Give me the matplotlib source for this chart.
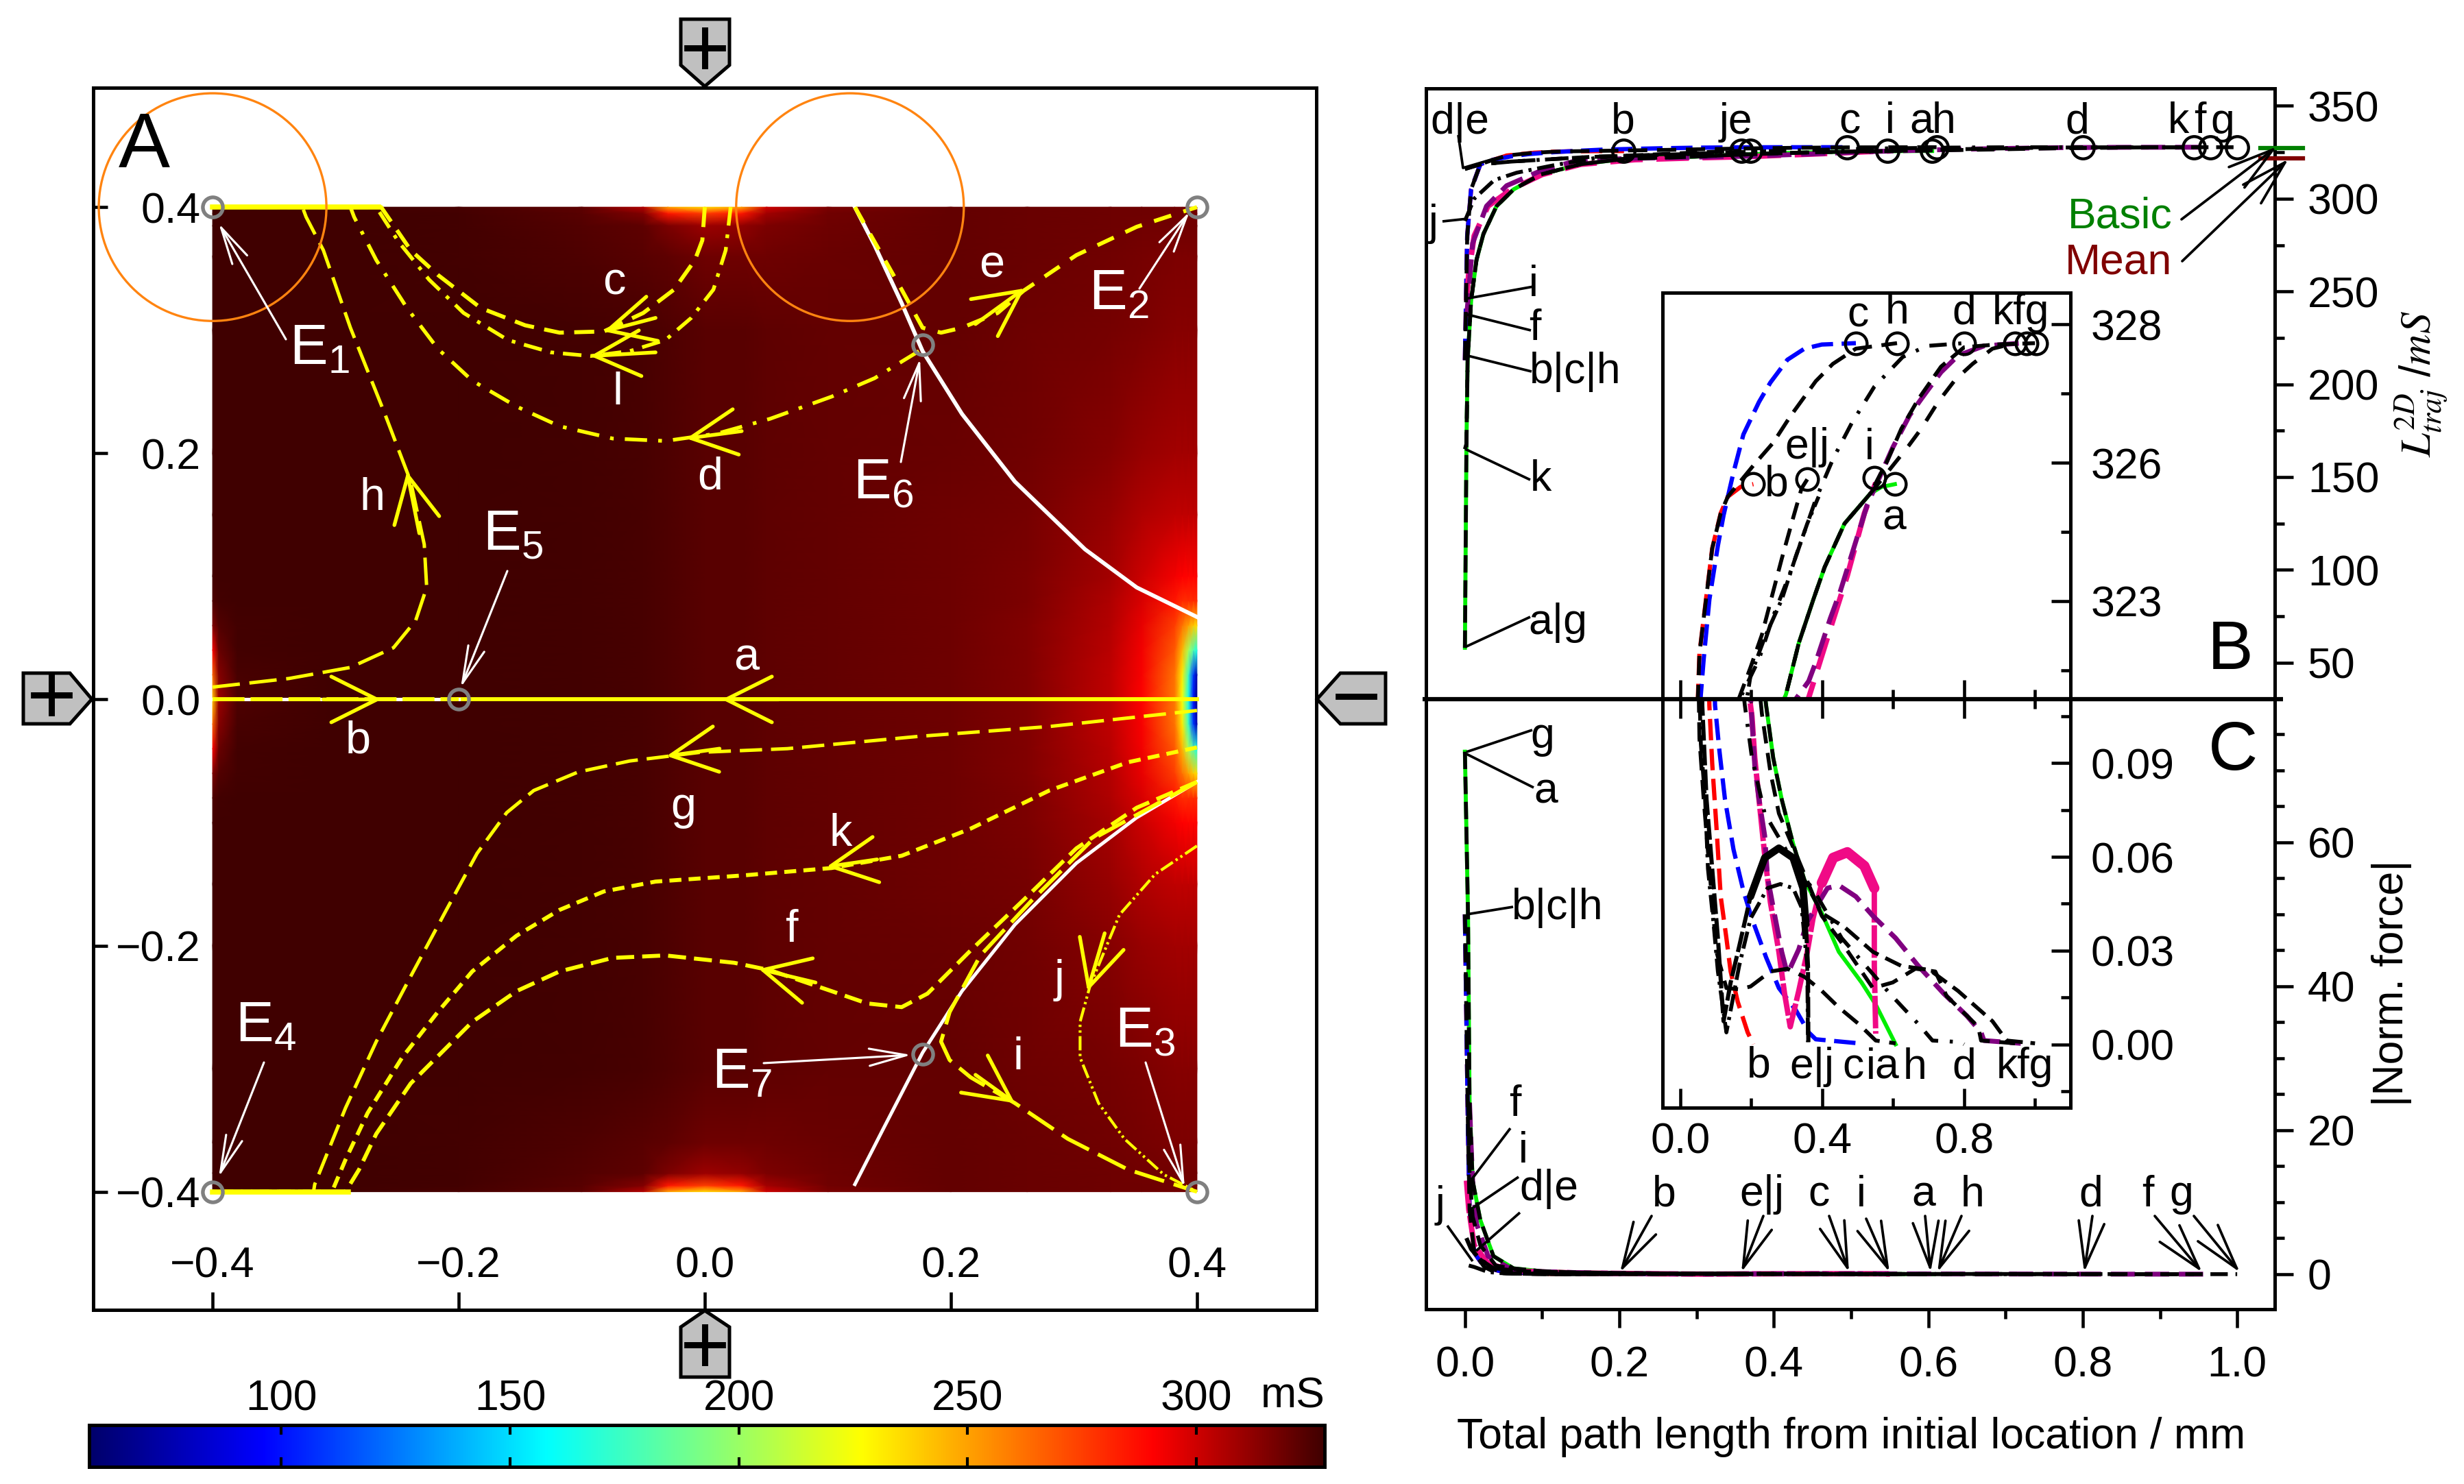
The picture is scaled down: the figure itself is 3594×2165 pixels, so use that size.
import numpy as np
import matplotlib
matplotlib.use('Agg')
import matplotlib.pyplot as plt
from matplotlib.colors import LinearSegmentedColormap
from matplotlib.patches import Polygon, Circle, Rectangle
from matplotlib.ticker import MultipleLocator, FixedLocator, FixedFormatter

plt.rcParams['font.family'] = ['Liberation Sans', 'DejaVu Sans']
plt.rcParams['mathtext.default'] = 'regular'
plt.rcParams['axes.unicode_minus'] = True

W, H, DPI = 3594, 2165, 300

# ---------- Panel A: conductivity field (mS) ----------
field_x = [-.4,-.395,-.38,-.3,-.2,-.1,-.05,-.03,0,.03,.05,.1,.2,.262,.33,.355,.382,.388,.393,.397,.4]
field_y = [0,.02,.04,.06,.08,.1,.15,.2,.3,.36,.385,.395,.4]
field_z = [
 [240,310,325,328,328,327,326,325,323,323,322,321,319,315,303,291,260,225,165,100,65],
 [265,314,326,328,328,327,326,325,323,323,322,321,319,315,303,292,262,232,175,110,75],
 [290,320,327,328,328,327,326,325,323,323,322,321,319,315,304,293,268,245,205,180,165],
 [315,324,327,328,328,327,326,325,323,323,322,321,319,315,305,295,275,262,250,240,235],
 [325,327,328,328,328,327,326,325,323,323,322,321,319,316,306,298,285,280,280,280,280],
 [327,328,328,328,328,327,326,325,323,323,322,321,319,316,308,301,293,291,290,290,290],
 [328,328,328,328,328,327,326,325,323,323,322,321,319,317,311,306,303,303,303,303,303],
 [328,328,328,328,328,327,326,325,323,323,322,321,320,318,314,311,309,309,309,309,309],
 [328,328,328,328,328,327,326,325,323,323,322,321,321,319,317,316,314,314,314,314,314],
 [328,328,328,328,327,325,323,322,319,319,319,320,321,320,318,317,316,316,316,316,316],
 [328,328,328,328,327,324,322,316,310,312,316,319,321,320,319,318,318,318,318,318,318],
 [328,328,328,328,327,323,315,285,275,285,309,318,321,320,319,319,318,318,318,318,318],
 [328,328,328,328,326,322,305,250,235,250,300,316,321,320,319,319,318,318,318,318,318],
]
cbar_ticks = [100,150,200,250,300]

# trajectories in panel A
tr_c = ([0,-.002,-.008,-.025,-.05,-.082,-.118,-.146,-.182,-.217,-.239,-.263,-.4],
        [.4,.373,.357,.333,.314,.299,.298,.304,.318,.345,.365,.4,.4])
tr_l = ([.021,.017,.007,-.011,-.032,-.061,-.093,-.125,-.16,-.196,-.224,-.249,-.267,-.4],
        [.4,.365,.333,.31,.292,.283,.279,.282,.292,.314,.341,.372,.4,.4])
tr_d = ([.174,.138,.103,.053,.01,-.032,-.075,-.118,-.153,-.189,-.217,-.242,-.267,-.285,-.288,-.4],
        [.283,.261,.246,.228,.216,.21,.212,.222,.238,.259,.285,.318,.357,.392,.4,.4])
tr_e = ([.122,.16,.177,.192,.209,.238,.259,.302,.351,.4],
        [.4,.333,.302,.298,.302,.314,.332,.361,.384,.4])
tr_h = ([-.4,-.338,-.288,-.253,-.235,-.226,-.228,-.239,-.26,-.288,-.31,-.324,-.327,-.4],
        [.01,.017,.026,.042,.064,.091,.126,.177,.232,.302,.365,.392,.4,.4])
tr_a = ([.4,-.2],[0,0])
tr_b = ([-.4,-.2],[0,0])
tr_g = ([.4,.28,.174,.067,-.004,-.061,-.103,-.139,-.161,-.185,-.21,-.239,-.267,-.292,-.317,-.318,-.4],
        [-.009,-.022,-.03,-.04,-.043,-.05,-.059,-.074,-.092,-.125,-.171,-.225,-.278,-.332,-.394,-.4,-.4])
tr_k = ([.4,.344,.28,.216,.16,.103,.031,-.04,-.082,-.118,-.153,-.189,-.217,-.246,-.274,-.292,-.303,-.4],
        [-.039,-.051,-.074,-.105,-.127,-.137,-.143,-.148,-.156,-.171,-.192,-.221,-.254,-.291,-.336,-.374,-.4,-.4])
tr_f = ([.4,.351,.302,.259,.216,.181,.16,.132,.103,.053,.024,-.032,-.075,-.118,-.153,-.189,-.21,-.239,-.267,-.281,-.292,-.4],
        [-.067,-.088,-.121,-.163,-.204,-.239,-.25,-.247,-.237,-.22,-.214,-.208,-.21,-.221,-.237,-.262,-.283,-.312,-.353,-.382,-.4,-.4])
tr_i = ([.4,.316,.266,.224,.199,.192,.199,.216,.252,.295,.344,.4],
        [-.067,-.113,-.163,-.208,-.254,-.278,-.293,-.307,-.328,-.357,-.382,-.4])
tr_j = ([.4,.366,.337,.313,.305,.305,.32,.341,.373,.4],
        [-.119,-.142,-.175,-.233,-.262,-.291,-.328,-.357,-.386,-.4])
sep_up = ([.122,.138,.16,.177,.209,.252,.309,.351,.4],
          [.4,.369,.322,.283,.232,.177,.122,.091,.067])
sep_lo = ([.122,.145,.177,.209,.252,.302,.351,.4],
          [-.394,-.349,-.287,-.237,-.183,-.133,-.096,-.067])
el_x = [-.4,.4,.4,-.4,-.2,.177,.177]
el_y = [.4,.4,-.4,-.4,0,.288,-.288]
ring_x = [-.4,.118]
ring_y = [.4,.4]
arrow_tail_x = [-.04,-.04,.03,.22,-.232,.06,-.31,.012,.14,.09,.22,.325]
arrow_tail_y = [.31,.282,.218,.305,.135,0,0,-.04,-.13,-.23,-.305,-.19]
arrow_tip_x = [-.082,-.093,-.015,.26,-.242,.014,-.263,-.031,.099,.044,.252,.311]
arrow_tip_y = [.299,.279,.212,.334,.185,0,0,-.046,-.136,-.219,-.328,-.237]

# ---------- Panels B / C: one x/y pair per trajectory ----------
a_bx=[0,.002,.0035,.008,.015,.024,.041,.063,.098,.15,.21,.298,.334,.375,.407,.463,.535,.567,.605]
a_by=[58,168,213,245,267,281,296,305,313,318.6,321.6,322.65,323.39,324.02,324.49,325.12,325.55,325.65,325.69]
g_bx=[0,.002,.0035,.008,.015,.024,.041,.063,.098,.15,.21,.298,.334,.375,.407,.463,.535,.583,.623,.671,.735,.8,.888,1.0]
g_by=[58,168,213,245,267,281,296,305,313,318.6,321.6,322.65,323.39,324.02,324.49,325.12,325.55,326.02,326.49,326.92,327.39,327.67,327.71,327.73]
k_bx=[0,.002,.0035,.008,.015,.024,.041,.063,.098,.15,.21,.298,.334,.375,.407,.463,.535,.59,.643,.679,.727,.775,.824,.88,.944]
k_by=[165,168,213,245,267,281,296,305,313,318.6,321.6,322.65,323.39,324.02,324.49,325.12,325.55,325.9,326.24,326.49,326.88,327.2,327.43,327.65,327.73]
f_bx=[.002,.004,.01,.028,.054,.098,.14,.21,.30,.362,.381,.423,.451,.527,.599,.647,.679,.735,.783,.856,.96]
f_by=[236,245,276,296,307,315,320,321.7,322.4,322.84,323.1,323.75,324.14,325.39,326.22,326.69,326.92,327.31,327.55,327.69,327.73]
i_bx=[.002,.005,.012,.03,.06,.1,.15,.22,.30,.362,.415,.471,.519,.551]
i_by=[245,260,280,296,305,313,318.5,321,322,322.6,323.47,324.37,325.27,325.71]
c_bx=[0,.003,.008,.02,.037,.058,.066,.082,.106,.122,.15,.178,.222,.254,.302,.35,.399,.495]
c_by=[213,280,305,318.6,321,322.65,323.16,324.02,324.8,325.24,325.86,326.41,326.88,327.16,327.49,327.65,327.71,327.73]
b_bx=[0,.003,.008,.02,.037,.05,.054,.066,.09,.114,.134,.17,.206]
b_by=[213,280,305,318.6,321,322.65,323.24,323.75,324.76,325.27,325.51,325.65,325.69]
h_bx=[0,.003,.008,.02,.037,.05,.054,.066,.09,.114,.134,.206,.262,.31,.382,.43,.495,.611]
h_by=[213,280,305,318.6,321,322.65,323.24,323.75,324.76,325.27,325.51,325.96,326.29,326.67,327.18,327.43,327.65,327.73]
d_bx=[0,.02,.06,.1,.14,.174,.222,.262,.31,.382,.431,.483,.547,.627,.695,.8]
d_by=[316,318.5,320,321,322,322.65,323.16,323.78,324.41,325.47,326.06,326.57,327.1,327.53,327.69,327.73]
e_bx=[0,.02,.06,.1,.166,.198,.23,.262,.286,.318,.342,.358]
e_by=[316,318.5,320,321,322.6,323.04,323.51,324.14,324.61,325.2,325.63,325.76]
j_bx=[0,.012,.038,.067,.115,.17,.198,.238,.286,.326,.358,.39]
j_by=[288,300,310,314,318,322,322.92,323.47,324.02,324.65,325.12,325.51]

a_cx=[0,.004,.006,.01,.02,.037,.063,.1,.14,.2,.242,.262,.286,.318,.35,.399,.447,.511,.551,.607]
a_cy=[72.6,50,24,13,7.5,2.5,.8,.4,.25,.15,.1085,.0917,.0784,.0642,.0526,.042,.0296,.0198,.0127,0]
g_cx=[0,.004,.006,.01,.02,.037,.063,.1,.14,.2,.242,.262,.286,.318,.35,.399,.463,.543,.623,.703,.783,.88,.92,1.0]
g_cy=[72.6,50,24,13,7.5,2.5,.8,.4,.25,.15,.1085,.0917,.0784,.0642,.0526,.042,.0375,.0296,.0251,.0238,.0171,.0074,.0012,.0003]
c_cx=[0,.004,.006,.012,.025,.05,.098,.11,.126,.15,.178,.202,.242,.278,.326,.362,.382,.495]
c_cy=[50,20,9,3,1,.3,.1085,.0943,.0784,.0624,.0491,.0402,.0278,.018,.0109,.0038,.0016,.0004]
b_cx=[0,.004,.006,.012,.025,.05,.082,.09,.102,.114,.13,.142,.162,.19,.206]
b_cy=[50,20,9,3,1,.3,.1085,.0899,.0695,.0473,.034,.0233,.0136,.0038,0]
h_cx=[0,.004,.006,.012,.025,.04,.054,.066,.082,.102,.13,.166,.198,.254,.302,.35,.399,.447,.503,.551,.607]
h_cy=[50,20,9,3,1,.2,.0979,.0784,.0562,.0296,.018,.0176,.0185,.0233,.0242,.0216,.0171,.0118,.0065,.0012,.0003]
k_cx=[.004,.006,.01,.02,.04,.08,.15,.23,.254,.278,.334,.399,.463,.543,.599,.663,.719,.751,.84,.848,.944]
k_cy=[24,14,8,4,1.2,.4,.2,.1059,.0872,.0739,.0588,.0411,.0313,.018,.0198,.0242,.0233,.0154,.0056,.0012,.0003]
d_cx=[.002,.008,.02,.04,.08,.14,.182,.202,.238,.302,.382,.455,.591,.671,.711,.791,.8]
d_cy=[5,3.5,2,.8,.3,.15,.1085,.0917,.0739,.0615,.0482,.034,.0162,.0065,.0012,.0007,0]
e_cx=[.002,.008,.02,.04,.062,.074,.09,.106,.122,.142,.166,.198,.238,.278,.318,.346,.354,.36,.361]
e_cy=[5,3.5,2,.6,.1085,.0784,.0562,.034,.0074,.0198,.0313,.0473,.0597,.0628,.0597,.05,.0384,.0251,.0007]
j_cx=[.005,.012,.03,.045,.058,.07,.078,.094,.106,.13,.166,.198,.246,.282,.318,.342,.358,.36]
j_cy=[1.2,1,.3,.15,.0961,.0784,.0562,.0384,.0233,.0038,.0251,.0402,.05,.0513,.05,.0438,.0251,.0007]
f_cx=[.006,.008,.01,.015,.03,.06,.1,.15,.21,.222,.238,.246,.262,.286,.302,.334,.358,.382,.415,.447,.495,.543,.607,.671,.743,.808,.848,.856,.96]
f_cy=[23.8,18,13,7,2.5,.7,.35,.2,.089,.0784,.0668,.0535,.0438,.0296,.0225,.0304,.0393,.0438,.05,.0509,.0473,.0411,.034,.0251,.0162,.0091,.0038,.0012,.0003]
i_cx=[.002,.005,.012,.03,.06,.1,.15,.202,.21,.226,.238,.254,.278,.294,.31,.334,.358,.374,.399,.431,.471,.519,.547,.547,.551]
i_cy=[13,9,4,1.5,.5,.3,.15,.105,.0917,.0739,.0606,.0455,.0296,.0162,.0056,.0171,.0296,.0402,.0517,.0597,.0615,.0571,.05,.0251,.0034]
i_peak_x=[.399,.431,.471,.519,.547]
i_peak_y=[.0517,.0597,.0615,.0571,.05]
e_peak_x=[.198,.238,.278,.318,.346,.354]
e_peak_y=[.0473,.0597,.0628,.0597,.05,.0384]

end_x = [.205,.358,.37,.495,.547,.605,.611,.8,.944,.965,1.0]
end_y_main = [325.7,325.8,325.8,327.7,325.8,325.7,327.7,327.7,327.7,327.7,327.7]
inset_end_x = [.206,.358,.495,.547,.605,.611,.8,.944,.976,1.004]
inset_end_y = [325.69,325.76,327.73,325.78,325.69,327.73,327.73,327.73,327.73,327.73]
basic_x, basic_y = [1.03,1.085],[327.2,327.2]
mean_x, mean_y = [1.03,1.085],[321.6,321.6]

cm_colors = [(0,'#00006a'),(.14,'#0000ff'),(.37,'#00ffff'),(.5,'#80ff80'),(.625,'#ffff00'),
             (.862,'#ff0000'),(1,'#400000')]
cmap = LinearSegmentedColormap.from_list('jetd', cm_colors, N=512)

fig = plt.figure(figsize=(W/DPI, H/DPI), dpi=DPI, facecolor='white')

def axpx(x0, y0, x1, y1, **kw):
    return fig.add_axes([x0/W, 1-y1/H, (x1-x0)/W, (y1-y0)/H], **kw)

LW = 1.2
YEL = '#ffff00'
FS = 15
# ---- Panel A ----
ax = axpx(136, 128, 1920, 1911)
ax.set_xlim(-.497,.497); ax.set_ylim(-.496,.497)
fy = np.array(field_y); fz = np.array(field_z)
Y = np.concatenate([-fy[:0:-1], fy]); Z = np.vstack([fz[:0:-1], fz])
ax.pcolormesh(field_x, Y, Z, shading='gouraud', cmap=cmap, vmin=58, vmax=328, zorder=1)
ax.plot(*sep_up, color='white', lw=1.4, zorder=2)
ax.plot(*sep_lo, color='white', lw=1.2, zorder=2)
styles = [(tr_c,(5,2.6),1.4),(tr_l,(5,2.4,1,2.4),1.3),(tr_d,(6,3,1,3),1.3),(tr_e,(4.5,3.2),1.4),
          (tr_h,(8,2.8),1.2),(tr_g,(6.5,2.6),1.2),(tr_k,(3,1.8),1.4),(tr_f,(4.5,2),1.4),
          (tr_i,(8,2.6),1.35),(tr_j,(5,1.2,.8,1.2,.8,1.2),1.0)]
for tr, dash, lw in styles:
    ax.plot(*tr, color=YEL, lw=lw, dashes=dash, zorder=3, clip_on=False)
ax.plot(*tr_a, color=YEL, lw=1.4, zorder=3)
ax.plot(*tr_b, color='white', lw=1.2, zorder=3)
ax.plot(*tr_b, color=YEL, lw=1.4, dashes=(8,1.5), zorder=3.1)
ax.plot([-.4,-.265],[.4,.4], color=YEL, lw=1.8, zorder=3, clip_on=False)
ax.plot([-.4,-.29],[-.4,-.4], color=YEL, lw=1.8, zorder=3, clip_on=False)
for tx,ty,hx,hy in zip(arrow_tail_x,arrow_tail_y,arrow_tip_x,arrow_tip_y):
    ax.annotate('', xy=(hx,hy), xytext=(tx,ty),
                arrowprops=dict(arrowstyle='->,head_length=1.6,head_width=.8', color=YEL, lw=1.3,
                                shrinkA=0, shrinkB=0, mutation_scale=10), zorder=4)
ax.plot(el_x, el_y, 'o', mfc='none', mec='#808080', mew=1.3, ms=7, zorder=5, clip_on=False)
for rx,ry in zip(ring_x, ring_y):
    ax.add_patch(Circle((rx,ry), .0925, fc='none', ec='#ff8410', lw=.8, zorder=6, clip_on=False))
ax.set_xticks([-.4,-.2,0,.2,.4]); ax.set_yticks([-.4,-.2,0,.2,.4])
ax.xaxis.set_major_formatter(lambda v,p: f'{v:.1f}'.replace('-','\u2212') if abs(v)>1e-9 else '0.0')
ax.yaxis.set_major_formatter(lambda v,p: f'{v:.1f}'.replace('-','\u2212') if abs(v)>1e-9 else '0.0')
ax.tick_params(axis='x', direction='in', length=6.3, width=1.1, pad=-22.5, labelsize=FS, zorder=7)
ax.tick_params(axis='y', direction='in', length=5, width=1.1, pad=-37.5, labelsize=FS, zorder=7)
ax.set_axisbelow(False)
for t in ax.get_yticklabels()+ax.get_xticklabels(): t.set_zorder(10)
for s in ax.spines.values(): s.set_linewidth(LW)

# ---- Colour bar ----
cax = axpx(130, 2079, 1932, 2140)
cax.imshow(np.linspace(58,328,1024)[None,:], extent=(58,328,0,1), aspect='auto', cmap=cmap, vmin=58, vmax=328)
cax.set_yticks([]); cax.set_xticks(cbar_ticks)
cax.tick_params(axis='x', direction='in', top=True, bottom=True, labeltop=True, labelbottom=False,
                length=3.4, width=1, pad=2, labelsize=FS)
for s in cax.spines.values(): s.set_linewidth(1.2)

# ---- Panels B, C ----
PURP='#800080'; PINK='#f00a86'; BLK='black'
sB = [('a',a_bx,a_by,'#00ee00',None,1.4),('b',b_bx,b_by,'#ff0000',(5,2),1.5),('c',c_bx,c_by,'#0000ff',(5,2),1.5),
      ('i',i_bx,i_by,PINK,(6,2.5),1.9),('f',f_bx,f_by,PURP,(5,2),1.7),
      ('g',g_bx,g_by,BLK,(4.5,2),1.35),('k',k_bx,k_by,BLK,(4.5,3.5),1.35),('h',h_bx,h_by,BLK,(5,2.5),1.35),
      ('d',d_bx,d_by,BLK,(4.5,3,.8,3),1.35),('e',e_bx,e_by,BLK,(4.5,2.5),1.35),('j',j_bx,j_by,BLK,(4.5,1.5,.8,1.5),1.35)]
sC = [('a',a_cx,a_cy,'#00ee00',None,1.4),('b',b_cx,b_cy,'#ff0000',(5,2),1.5),('c',c_cx,c_cy,'#0000ff',(5,2),1.5),
      ('i',i_cx,i_cy,PINK,(6,.5),1.9),('f',f_cx,f_cy,PURP,(5,2),1.7),
      ('g',g_cx,g_cy,BLK,(4.5,2),1.35),('k',k_cx,k_cy,BLK,(4.5,2.5),1.35),('h',h_cx,h_cy,BLK,(5,2.5),1.35),
      ('d',d_cx,d_cy,BLK,(4.5,3,.8,3),1.35),('e',e_cx,e_cy,BLK,(5,1),1.45),('j',j_cx,j_cy,BLK,(4.5,1.5,.8,1.5),1.35)]
def draw(a, series):
    for n,x,y,col,dash,lw in series:
        if dash is None:
            a.plot(x,y,color=col,lw=lw)
        else:
            a.plot(x,y,color=col,lw=lw,dashes=dash)

axB = axpx(2079.5, 128.5, 3318, 1020)
axB.set_xlim(-.0508,1.0487); axB.set_ylim(30.3,359.6)
draw(axB, sB)
axB.plot(end_x, end_y_main, 'o', mfc='none', mec='k', mew=1.05, ms=7.8, zorder=5)
axB.plot(basic_x, basic_y, color='#008000', lw=1.5, clip_on=False, zorder=6)
axB.plot(mean_x, mean_y, color='#800000', lw=1.5, clip_on=False, zorder=6)
axB.yaxis.tick_right(); axB.set_xticks([])
axB.yaxis.set_major_locator(MultipleLocator(50)); axB.yaxis.set_minor_locator(MultipleLocator(25))
axB.tick_params(axis='y', which='major', length=6.5, width=1.1, pad=5, labelsize=FS)
axB.tick_params(axis='y', which='minor', length=3.4, width=1.1)

axC = axpx(2079.5, 1020, 3318, 1910)
axC.set_xlim(-.0508,1.0487); axC.set_ylim(-4.87,79.9)
draw(axC, sC)
axC.yaxis.tick_right()
axC.yaxis.set_major_locator(MultipleLocator(20)); axC.yaxis.set_minor_locator(MultipleLocator(5))
axC.xaxis.set_major_locator(MultipleLocator(.2)); axC.xaxis.set_minor_locator(MultipleLocator(.1))
axC.xaxis.set_major_formatter(lambda v,p: f'{abs(v):.1f}')
axC.tick_params(axis='both', which='major', length=6.5, width=1.1, labelsize=FS)
axC.tick_params(axis='x', which='major', pad=6)
axC.tick_params(axis='y', which='major', pad=5)
axC.tick_params(axis='both', which='minor', length=3.4, width=1.1)
for a in (axB, axC):
    for s in a.spines.values(): s.set_linewidth(LW)

# ---- insets ----
ib = axpx(2425, 427, 3020, 1020, zorder=4)
ib.set_xlim(-.05,1.1); ib.set_ylim(322.58,328.46)
draw(ib, sB)
ib.plot(inset_end_x, inset_end_y, 'o', mfc='none', mec='k', mew=1.05, ms=7.6, zorder=5)
ic = axpx(2425, 1020, 3020, 1616, zorder=4)
ic.set_xlim(-.05,1.1); ic.set_ylim(-.0203,.1105)
draw(ic, sC)
ic.plot(i_peak_x, i_peak_y, color=PINK, lw=3.6, solid_capstyle='round')
ic.plot(e_peak_x, e_peak_y, color=BLK, lw=2.6, solid_capstyle='round')
for a in (ib, ic):
    a.yaxis.tick_right()
    a.xaxis.set_major_locator(MultipleLocator(.4)); a.xaxis.set_minor_locator(FixedLocator([.2,.6,1.0]))
    a.tick_params(axis='both', which='major', direction='in', length=6.7, width=1.1, labelsize=FS)
    a.tick_params(axis='both', which='minor', direction='in', length=3.4, width=1.1)
    a.tick_params(axis='y', which='major', pad=7)
    for s in a.spines.values(): s.set_linewidth(LW)
ib.tick_params(axis='x', labelbottom=False)
ib.yaxis.set_major_locator(FixedLocator([324,326,328]))
ib.yaxis.set_major_formatter(FixedFormatter(['323','326','328']))
ib.yaxis.set_minor_locator(MultipleLocator(1))
ic.yaxis.set_major_locator(FixedLocator([0,.03,.06,.09]))
ic.yaxis.set_major_formatter(FixedFormatter(['0.00','0.03','0.06','0.09']))
ic.yaxis.set_minor_locator(MultipleLocator(.015))
ic.xaxis.set_major_formatter(lambda v,p: f'{abs(v):.1f}')
ic.tick_params(axis='x', which='major', top=True, pad=5)
ic.tick_params(axis='x', which='minor', top=True)
ib.tick_params(axis='x', which='both', bottom=True)

# ---- overlay in picture pixels: labels, leader lines, electrode symbols ----
ov = fig.add_axes([0,0,1,1], zorder=20); ov.set_xlim(0,W); ov.set_ylim(H,0); ov.axis('off'); ov.patch.set_alpha(0)

def T(x,y,s,size=FS,color='k',**kw):
    kw.setdefault('ha','center'); kw.setdefault('va','center')
    return ov.text(x,y,s,fontsize=size,color=color,**kw)
def L(pts,color='k',lw=.9):
    ov.plot([p[0] for p in pts],[p[1] for p in pts],color=color,lw=lw,solid_capstyle='butt')
def A(a,b,color='k',lw=.9,hl=1.2,hw=.35):
    ov.annotate('',xy=b,xytext=a,arrowprops=dict(arrowstyle=f'->,head_length={hl},head_width={hw}',color=color,lw=lw,
                shrinkA=0,shrinkB=0,mutation_scale=10))

# electrode symbols
def sym(pts, tx, ty, s):
    ov.add_patch(Polygon(pts, closed=True, fc='#c0c0c0', ec='k', lw=1.2))
    T(tx, ty, s, size=30)
sym([(993,28),(1064,28),(1064,95),(1028,126),(993,95)],1028,80,'+')
sym([(993,2009),(1064,2009),(1064,1936),(1028,1912),(993,1936)],1028,1972,'+')
sym([(34,982),(102,982),(134,1020),(102,1056),(34,1056)],75,1024,'+')
sym([(2021,982),(1955,982),(1921,1020),(1955,1056),(2021,1056)],1978,1025,'\u2212')

# white labels in panel A
for (tx,ty,s) in [(391,180,'c'),(393,250,'l'),(452,304,'d'),(631,169,'e'),(237,317,'h'),(475,419,'a'),
                  (228,472,'b'),(435,514,'g'),(535,531,'k'),(504,592,'f'),(674,624,'j'),(648,673,'i')]:
    T(tx*2.292,ty*2.292,s,size=16,color='white')
for (tx,ty,s) in [(466,510,'E$_1$'),(1632,430,'E$_2$'),(1670,1505,'E$_3$'),(388,1498,'E$_4$'),
                  (748,780,'E$_5$'),(1288,705,'E$_6$'),(1082,1565,'E$_7$')]:
    T(tx,ty,s,size=20,color='white')
for a,b in [((417,495),(319,326)),((1662,421),(1735,309)),((1671,1550),(1728,1732)),((385,1550),(319,1717)),
            ((740,833),(672,1003)),((1314,674),(1342,523)),((1114,1551),(1329,1539))]:
    A(a,b,color='white',lw=.75,hl=1.3,hw=.3)
T(210,215,'A',size=27)
T(1886,2037,'mS',size=FS)

# panel letters, axis labels
T(3253,950,'B',size=24); T(3257,1097,'C',size=24)
T(2700,2096,'Total path length from initial location / mm',size=FS)
T(3488,1434,'|Norm. force|',size=FS,rotation=90)
T(3532,560,r'$\mathit{L}_{\mathit{traj}}^{\mathit{2D}}$ /$\mathit{mS}$',size=15,rotation=90,math_fontfamily='stix')
T(3092,316,'Basic',size=15,color='#008000'); T(3090,383,'Mean',size=15,color='#800000')
A((3182,320),(3321,214),hl=1.6,hw=.45); A((3183,381),(3338,232),hl=1.6,hw=.45)

# labels of panel B
for x,s in [(2129,'d|e'),(2367,'b'),(2532,'je'),(2698,'c'),(2757,'i'),(2803,'a'),(2835,'h'),(3030,'d'),
            (3177,'k'),(3209,'f'),(3242,'g')]:
    T(x,178,s)
for (x,y,s,p) in [(2091,327,'j',[(2104,323),(2141,319)]),(2237,415,'i',[(2237,418),(2137,436)]),
                  (2239,479,'f',[(2233,482),(2137,458)]),(2298,542,'b|c|h',[(2234,542),(2137,518)]),
                  (2247,700,'k',[(2232,700),(2137,655)]),(2272,909,'a|g',[(2232,900),(2137,944)])]:
    T(x,y,s); L(p)
L([(2127,197),(2134,245),(2178,232)])
# labels of panel C
for (x,y,s,p) in [(2250,1074,'g',[(2235,1065),(2139,1097)]),(2255,1155,'a',[(2237,1149),(2139,1100)]),
                  (2272,1325,'b|c|h',[(2207,1323),(2139,1334)]),(2210,1611,'f',[(2203,1646),(2144,1724)]),
                  (2222,1680,'i',[(2215,1717),(2144,1765)]),(2259,1735,'d|e',[(2217,1769),(2153,1825)]),
                  (2101,1758,'j',[(2111,1788),(2148,1840)])]:
    T(x,y,s); L(p)
for (x,s,a,b) in [(2427,'b',(2409,1774),(2363,1856)),(2570,'e|j',(2572,1774),(2540,1856)),(2653,'c',(2668,1774),(2697,1856)),
                  (2715,'i',(2722,1778),(2756,1856)),(2806,'a',(2808,1774),(2816,1856)),(2877,'h',(2861,1774),(2826,1856)),
                  (3050,'d',(3052,1774),(3040,1856)),(3133,'f',(3143,1774),(3212,1856)),(3182,'g',(3200,1774),(3267,1856))]:
    T(x,1743,s); A(a,b,hl=1.6,hw=.45)
# inset labels
for (x,y,s) in [(2710,460,'c'),(2767,456,'h'),(2865,456,'d'),(2947,456,'kfg'),(2636,653,'e|j'),(2727,653,'i'),
                (2591,707,'b'),(2763,756,'a'),(2565,1555,'b'),(2643,1557,'e|j'),(2703,1557,'c'),(2729,1557,'i'),
                (2752,1557,'a'),(2793,1557,'h'),(2865,1557,'d'),(2953,1557,'kfg')]:
    T(x,y,s)
# separator line across panels B and C
L([(2075,1020),(3330,1020)],lw=1.5)

fig.savefig('out.png', dpi=DPI, facecolor='white')
